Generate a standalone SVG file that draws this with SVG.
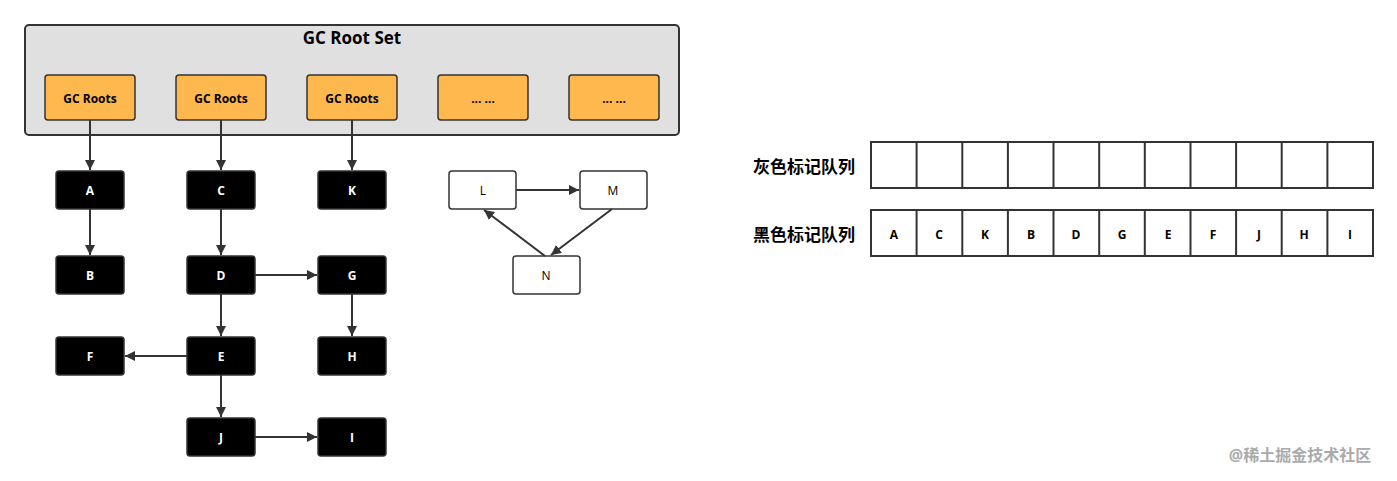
<svg xmlns="http://www.w3.org/2000/svg" width="1397" height="481" viewBox="0 0 1397 481">
<style>
text{font-family:"Open Sans","Noto Sans","Noto Sans CJK SC",sans-serif;font-weight:bold;text-anchor:middle;dominant-baseline:central}
.root{fill:#ffb84d;stroke:#333;stroke-width:1.5}
.blk rect{fill:#000;stroke:#333;stroke-width:1.5}
.blk text{fill:#fff;font-size:12px}
.wht rect{fill:#fff;stroke:#333;stroke-width:1.5}
.wht text{fill:#000;font-size:12px;font-weight:normal}
.cell{fill:#fff;stroke:#333;stroke-width:2}
.e{stroke:#333;stroke-width:2;fill:none;marker-end:url(#a)}
</style>
<defs><marker id="a" viewBox="0 0 10 10" refX="10" refY="5" markerWidth="5" markerHeight="5" orient="auto" markerUnits="strokeWidth"><path d="M0,0L10,5L0,10z" fill="#333"/></marker></defs>
<rect width="1397" height="481" fill="#fff"/>
<g id="rootset">
<rect x="25" y="25" width="654" height="110" rx="4" fill="#e0e0e0" stroke="#333" stroke-width="2"/>
<text x="352" y="37" font-size="17">GC Root Set</text>
<rect class="root" x="45" y="75" width="90" height="45" rx="3"/><text x="90" y="98" font-size="12">GC Roots</text>
<rect class="root" x="176" y="75" width="90" height="45" rx="3"/><text x="221" y="98" font-size="12">GC Roots</text>
<rect class="root" x="307" y="75" width="90" height="45" rx="3"/><text x="352" y="98" font-size="12">GC Roots</text>
<rect class="root" x="438" y="75" width="90" height="45" rx="3"/><text x="483" y="98" font-size="12">... ...</text>
<rect class="root" x="569" y="75" width="90" height="45" rx="3"/><text x="614" y="98" font-size="12">... ...</text>
</g>
<g id="A" class="blk"><rect x="56" y="171" width="68" height="38" rx="3"/><text x="90" y="190">A</text></g>
<g id="C" class="blk"><rect x="187" y="171" width="68" height="38" rx="3"/><text x="221" y="190">C</text></g>
<g id="K" class="blk"><rect x="318" y="171" width="68" height="38" rx="3"/><text x="352" y="190">K</text></g>
<g id="B" class="blk"><rect x="56" y="256" width="68" height="38" rx="3"/><text x="90" y="275">B</text></g>
<g id="D" class="blk"><rect x="187" y="256" width="68" height="38" rx="3"/><text x="221" y="275">D</text></g>
<g id="G" class="blk"><rect x="318" y="256" width="68" height="38" rx="3"/><text x="352" y="275">G</text></g>
<g id="F" class="blk"><rect x="56" y="337" width="68" height="38" rx="3"/><text x="90" y="356">F</text></g>
<g id="E" class="blk"><rect x="187" y="337" width="68" height="38" rx="3"/><text x="221" y="356">E</text></g>
<g id="H" class="blk"><rect x="318" y="337" width="68" height="38" rx="3"/><text x="352" y="356">H</text></g>
<g id="J" class="blk"><rect x="187" y="418" width="68" height="38" rx="3"/><text x="221" y="437">J</text></g>
<g id="I" class="blk"><rect x="318" y="418" width="68" height="38" rx="3"/><text x="352" y="437">I</text></g>
<g id="L" class="wht"><rect x="449" y="171" width="67" height="38" rx="3"/><text x="483" y="190">L</text></g>
<g id="M" class="wht"><rect x="580" y="171" width="67" height="38" rx="3"/><text x="613" y="190">M</text></g>
<g id="N" class="wht"><rect x="513" y="256" width="67" height="38" rx="3"/><text x="546" y="275">N</text></g>
<g id="connectors">
<path class="e" d="M90,120V170"/><path class="e" d="M221,120V170"/><path class="e" d="M352,120V170"/>
<path class="e" d="M90,209V255"/><path class="e" d="M221,209V255"/>
<path class="e" d="M255,275H317"/><path class="e" d="M221,294V336"/><path class="e" d="M352,294V336"/>
<path class="e" d="M187,356H125"/><path class="e" d="M221,375V417"/><path class="e" d="M255,437H317"/>
<path class="e" d="M516,190H579"/><path class="e" d="M612,209L551,255"/><path class="e" d="M545,256L484,210"/>
</g>
<g id="queues">
<text x="804" y="166" font-size="17">灰色标记队列</text>
<text x="804" y="234" font-size="17">黑色标记队列</text>
<g id="gray">
<rect class="cell" x="871" y="142" width="502" height="46"/>
<path stroke="#333" stroke-width="2" d="M916.6,142v46M962.3,142v46M1007.9,142v46M1053.5,142v46M1099.2,142v46M1144.8,142v46M1190.5,142v46M1236.1,142v46M1281.7,142v46M1327.4,142v46"/>
</g>
<g id="black">
<rect class="cell" x="871" y="210" width="502" height="46"/>
<path stroke="#333" stroke-width="2" d="M916.6,210v46M962.3,210v46M1007.9,210v46M1053.5,210v46M1099.2,210v46M1144.8,210v46M1190.5,210v46M1236.1,210v46M1281.7,210v46M1327.4,210v46"/>
<g font-size="12">
<text x="894" y="234">A</text><text x="939" y="234">C</text><text x="985" y="234">K</text><text x="1031" y="234">B</text><text x="1076" y="234">D</text><text x="1122" y="234">G</text><text x="1168" y="234">E</text><text x="1213" y="234">F</text><text x="1259" y="234">J</text><text x="1304" y="234">H</text><text x="1350" y="234">I</text>
</g>
</g>
</g>
<text x="1300" y="455" font-size="16" font-weight="normal" fill="#aaa">@稀土掘金技术社区</text>
</svg>
